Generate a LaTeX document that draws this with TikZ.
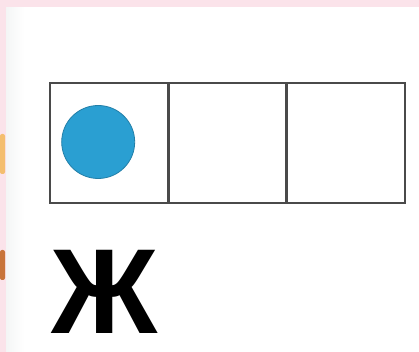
\documentclass[tikz,border=0pt]{standalone}
\usepackage{fontspec}
\newfontfamily\letterfont{Liberation Sans}
\usetikzlibrary{positioning}
\definecolor{framepink}{HTML}{FBE3EA}
\definecolor{dotblue}{HTML}{2A9FD2}
\definecolor{gridgray}{HTML}{4A4A4A}
\definecolor{peach}{HTML}{F4BE6E}
\definecolor{rust}{HTML}{C8743A}
\tikzset{
  cellbox/.style={draw=gridgray, line width=2.6pt, minimum width=118.3pt,
    minimum height=120pt, inner sep=0pt, outer sep=0pt},
  dotmark/.style={circle, fill=dotblue, draw=dotblue!80!black, line width=0.8pt,
    minimum size=73pt, inner sep=0pt}
}
\begin{document}
\begin{tikzpicture}[x=1pt, y=1pt]
  \useasboundingbox (0,0) rectangle (419,352);
  % Background and pink frame edges
  \fill[white] (0,0) rectangle (419,352);
  \fill[left color=cyan!6!gray!8, right color=white] (6,0) rectangle (24,345);
  \fill[framepink] (0,345) rectangle (419,352);
  \fill[framepink] (0,0) rectangle (6,352);
  \fill[peach, rounded corners=2pt] (0,178) rectangle (5,218);
  \fill[rust, rounded corners=2pt] (0,72) rectangle (5,102);
  % Row of three cells
  \node[cellbox] (c1) at (109.2,209) {};
  \foreach \i [remember=\i as \prev (initially 1)] in {2,3} {
    \node[cellbox, right=0pt of c\prev] (c\i) {};
  }
  % Blue counter in the first cell
  \node[dotmark] (dot) at ([xshift=-11pt, yshift=1pt]c1.center) {};
  % Letter below the cells
  \node[inner sep=0pt, xscale=0.97, font=\letterfont\bfseries\fontsize{121}{121}\selectfont]
    (letter) at (105,60) {Ж};
\end{tikzpicture}
\end{document}
